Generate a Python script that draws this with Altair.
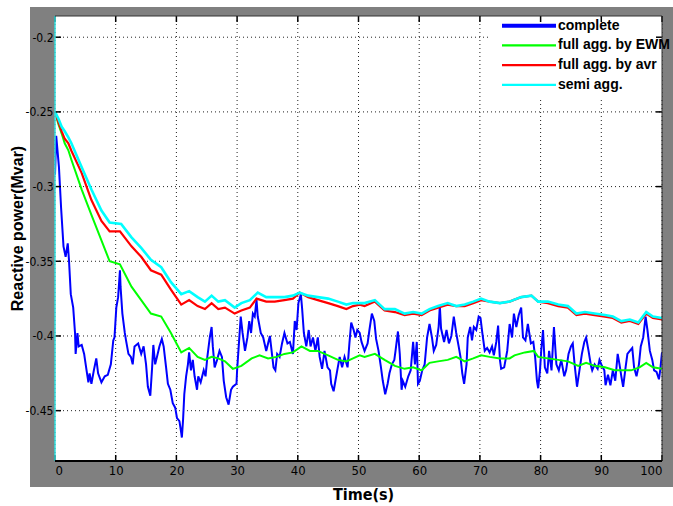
import altair as alt
import pandas as pd

# ---- series data: time (s) and reactive power (Mvar) ----
t_complete = [0, 0.2, 0.65, 1.0, 1.4, 1.75, 2.1, 2.3, 2.6, 3.0, 3.3, 3.4, 3.7, 3.9, 4.4, 4.8,
              5.2, 5.5, 5.7, 6.0, 6.4, 6.8, 7.1, 7.65, 8.2, 8.7, 9.2, 9.6, 9.8, 10.1, 10.4,
              10.7, 10.8, 11.1, 11.5, 11.7, 12.1, 12.5, 12.8, 13.1, 13.7, 14.2, 14.6, 15.0,
              15.3, 15.7, 16.0, 16.2, 16.5, 16.8, 17.2, 17.6, 17.9, 18.3, 18.6, 19.0, 19.4,
              19.8, 20.1, 20.5, 20.8, 20.9, 21.1, 21.3, 21.6, 21.9, 22.1, 22.4, 22.7, 23.0,
              23.4, 23.6, 24.0, 24.5, 24.8, 25.1, 25.5, 25.8, 26.0, 26.3, 26.7, 27.1, 27.5,
              27.8, 28.2, 28.6, 29.0, 29.3, 29.9, 30.0, 30.3, 30.6, 30.9, 31.3, 31.7, 32.0,
              32.3, 32.6, 32.9, 33.2, 33.4, 33.9, 34.3, 34.8, 35.4, 35.6, 36.0, 36.3, 36.6,
              37.0, 37.4, 37.8, 38.3, 38.7, 39.2, 39.5, 39.8, 40.1, 40.5, 40.7, 41.0, 41.4,
              41.8, 42.1, 42.5, 42.9, 43.3, 43.6, 44.0, 44.4, 44.9, 45.3, 45.5, 45.9, 46.2,
              46.5, 46.9, 47.3, 47.7, 48.2, 48.5, 48.8, 49.2, 49.5, 49.8, 50.2, 50.5, 51.0,
              51.5, 51.8, 52.2, 52.6, 52.9, 53.3, 53.7, 54.0, 54.4, 54.8, 55.1, 55.5, 55.9,
              56.1, 56.5, 56.8, 57.1, 57.3, 57.7, 58.2, 58.6, 59.0, 59.3, 59.6, 59.8, 60.1,
              60.5, 60.9, 61.3, 61.7, 62.1, 62.4, 62.8, 63.2, 63.4, 63.6, 64.1, 64.5, 64.9,
              65.3, 65.7, 66.1, 66.5, 66.8, 67.1, 67.4, 67.8, 68.0, 68.4, 68.7, 69.0, 69.4,
              69.8, 70.1, 70.4, 70.8, 71.2, 71.6, 72.0, 72.3, 72.7, 73.0, 73.3, 73.5, 74.0,
              74.5, 74.9, 75.3, 75.6, 76.0, 76.4, 76.8, 77.1, 77.5, 77.9, 78.4, 78.8, 79.1,
              79.4, 79.6, 79.9, 80.1, 80.4, 80.7, 81.1, 81.4, 81.8, 82.2, 82.6, 83.0, 83.4,
              83.9, 84.2, 84.6, 85.0, 85.3, 85.6, 86.0, 86.4, 86.8, 87.2, 87.5, 87.9, 88.3,
              88.5, 88.9, 89.4, 89.7, 90.1, 90.5, 90.7, 91.1, 91.5, 91.9, 92.3, 92.7, 93.0,
              93.3, 93.6, 94.0, 94.3, 94.7, 95.1, 95.4, 95.8, 96.2, 96.5, 96.9, 97.3, 97.6,
              98.0, 98.4, 98.7, 99.1, 99.5, 99.7, 100.0]
q_complete = [-0.292, -0.266, -0.287, -0.314, -0.340, -0.347, -0.338, -0.349, -0.372, -0.381,
              -0.398, -0.412, -0.398, -0.407, -0.406, -0.412, -0.423, -0.431, -0.425, -0.432,
              -0.423, -0.415, -0.425, -0.431, -0.427, -0.426, -0.419, -0.403, -0.401, -0.381,
              -0.374, -0.356, -0.367, -0.385, -0.398, -0.403, -0.412, -0.414, -0.419, -0.407,
              -0.405, -0.412, -0.407, -0.419, -0.434, -0.440, -0.421, -0.406, -0.419, -0.414,
              -0.407, -0.402, -0.407, -0.421, -0.432, -0.436, -0.445, -0.448, -0.455, -0.457,
              -0.465, -0.468, -0.456, -0.439, -0.427, -0.419, -0.411, -0.423, -0.416, -0.427,
              -0.436, -0.427, -0.431, -0.423, -0.427, -0.414, -0.401, -0.394, -0.407, -0.421,
              -0.416, -0.410, -0.414, -0.430, -0.441, -0.446, -0.436, -0.434, -0.432, -0.423,
              -0.405, -0.387, -0.398, -0.410, -0.401, -0.390, -0.398, -0.385, -0.387, -0.376,
              -0.387, -0.398, -0.401, -0.410, -0.400, -0.407, -0.421, -0.423, -0.412, -0.414,
              -0.405, -0.398, -0.405, -0.404, -0.412, -0.390, -0.396, -0.378, -0.372, -0.381,
              -0.398, -0.407, -0.396, -0.407, -0.401, -0.410, -0.401, -0.414, -0.422, -0.410,
              -0.421, -0.423, -0.432, -0.437, -0.430, -0.423, -0.414, -0.421, -0.414, -0.421,
              -0.405, -0.391, -0.396, -0.401, -0.396, -0.398, -0.404, -0.410, -0.405, -0.396,
              -0.385, -0.390, -0.402, -0.410, -0.421, -0.430, -0.439, -0.432, -0.425, -0.419,
              -0.416, -0.410, -0.397, -0.412, -0.436, -0.430, -0.434, -0.427, -0.423, -0.404,
              -0.419, -0.404, -0.432, -0.430, -0.423, -0.419, -0.401, -0.392, -0.401, -0.410,
              -0.406, -0.394, -0.380, -0.395, -0.404, -0.396, -0.405, -0.400, -0.387, -0.398,
              -0.407, -0.414, -0.425, -0.432, -0.419, -0.401, -0.394, -0.403, -0.394, -0.396,
              -0.387, -0.388, -0.398, -0.410, -0.408, -0.411, -0.407, -0.413, -0.404, -0.393,
              -0.416, -0.422, -0.421, -0.410, -0.392, -0.401, -0.385, -0.394, -0.386, -0.381,
              -0.401, -0.403, -0.392, -0.405, -0.404, -0.414, -0.430, -0.435, -0.423, -0.410,
              -0.396, -0.421, -0.425, -0.410, -0.423, -0.394, -0.419, -0.423, -0.416, -0.427,
              -0.423, -0.412, -0.407, -0.405, -0.419, -0.434, -0.423, -0.412, -0.404, -0.401,
              -0.410, -0.420, -0.423, -0.419, -0.422, -0.416, -0.420, -0.423, -0.433, -0.426,
              -0.433, -0.423, -0.430, -0.412, -0.419, -0.427, -0.434, -0.421, -0.412, -0.410,
              -0.408, -0.421, -0.427, -0.419, -0.407, -0.401, -0.387, -0.396, -0.410, -0.416,
              -0.423, -0.424, -0.429, -0.423, -0.411]

t_ewm = [0, 0.55, 1.1, 1.6, 2.2, 2.7, 4.4, 6.0, 7.65, 9.0, 10.7, 12.6, 14.2, 15.8, 17.5, 19.1,
         20.8, 22.1, 23.5, 24.7, 25.8, 26.9, 28.0, 29.3, 30.7, 32.4, 33.7, 35.1, 36.5, 37.8,
         39.2, 40.6, 42.0, 43.3, 45.0, 46.6, 48.0, 49.1, 50.2, 51.0, 52.7, 54.3, 56.0, 57.6,
         59.0, 60.4, 61.7, 63.1, 64.7, 66.1, 67.5, 68.9, 70.2, 71.6, 73.3, 74.9, 75.7, 77.4,
         78.9, 79.6, 81.2, 82.9, 84.5, 86.2, 87.5, 88.9, 90.6, 92.2, 93.6, 94.9, 96.3, 97.4,
         98.5, 100.0]
q_ewm = [-0.250, -0.258, -0.2645, -0.271, -0.2757, -0.282, -0.302, -0.319, -0.336, -0.350,
         -0.352, -0.367, -0.376, -0.385, -0.387, -0.398, -0.411, -0.408, -0.414, -0.416,
         -0.414, -0.415, -0.417, -0.422, -0.420, -0.415, -0.413, -0.415, -0.414, -0.412,
         -0.411, -0.407, -0.410, -0.410, -0.413, -0.416, -0.417, -0.415, -0.413, -0.414,
         -0.412, -0.416, -0.420, -0.422, -0.421, -0.423, -0.418, -0.417, -0.416, -0.414,
         -0.417, -0.415, -0.413, -0.414, -0.415, -0.415, -0.413, -0.411, -0.410, -0.414,
         -0.415, -0.416, -0.417, -0.420, -0.418, -0.420, -0.421, -0.423, -0.423, -0.423,
         -0.421, -0.418, -0.421, -0.422]

t_avr = [0, 0.55, 1.1, 1.6, 2.2, 2.7, 4.4, 6.0, 7.65, 9.0, 10.7, 12.6, 14.2, 15.8, 17.5, 19.1,
         20.8, 22.1, 23.5, 24.7, 25.8, 26.9, 28.0, 29.6, 30.7, 32.1, 33.2, 34.8, 36.2, 37.8,
         39.2, 40.3, 41.7, 43.3, 45.0, 46.6, 48.0, 49.1, 50.2, 51.0, 52.7, 54.3, 56.0, 57.6,
         59.0, 60.4, 61.7, 63.1, 64.7, 66.1, 67.5, 68.9, 70.2, 71.6, 73.3, 74.9, 75.5, 76.8,
         78.5, 79.6, 81.2, 82.9, 84.5, 85.9, 87.3, 88.9, 90.6, 91.9, 93.3, 94.7, 96.1, 97.4,
         98.5, 100.0]
q_avr = [-0.250, -0.2567, -0.263, -0.268, -0.271, -0.276, -0.291, -0.309, -0.323, -0.330,
         -0.330, -0.340, -0.347, -0.356, -0.359, -0.369, -0.379, -0.376, -0.380, -0.382,
         -0.378, -0.382, -0.381, -0.385, -0.383, -0.381, -0.375, -0.377, -0.377, -0.376,
         -0.375, -0.371, -0.374, -0.376, -0.378, -0.380, -0.382, -0.380, -0.379, -0.380,
         -0.377, -0.383, -0.384, -0.386, -0.385, -0.386, -0.383, -0.381, -0.379, -0.380,
         -0.380, -0.378, -0.376, -0.377, -0.378, -0.377, -0.376, -0.374, -0.373, -0.377,
         -0.378, -0.380, -0.381, -0.386, -0.385, -0.386, -0.387, -0.388, -0.391, -0.390,
         -0.392, -0.385, -0.388, -0.389]

t_semi = [0, 0.55, 1.1, 1.6, 2.2, 2.7, 4.4, 6.0, 7.65, 9.0, 10.9, 12.6, 14.2, 15.8, 17.5, 19.1,
          20.8, 22.1, 23.5, 24.7, 25.8, 26.9, 28.0, 29.6, 30.7, 32.1, 33.4, 34.8, 36.2, 37.8,
          39.2, 40.3, 41.7, 43.3, 45.0, 46.6, 48.0, 49.1, 50.2, 51.0, 52.7, 54.3, 56.0, 57.6,
          59.0, 60.4, 61.7, 63.1, 64.7, 66.1, 67.5, 68.9, 70.2, 71.6, 73.3, 74.9, 75.5, 76.8,
          78.5, 79.6, 81.2, 82.9, 84.5, 85.9, 87.3, 88.9, 90.6, 91.9, 93.3, 94.7, 96.1, 97.4,
          98.5, 100.0]
q_semi = [-0.250, -0.2545, -0.260, -0.263, -0.267, -0.271, -0.287, -0.302, -0.316, -0.324,
          -0.325, -0.334, -0.341, -0.349, -0.354, -0.364, -0.372, -0.370, -0.374, -0.377,
          -0.373, -0.377, -0.376, -0.381, -0.378, -0.376, -0.371, -0.374, -0.374, -0.374,
          -0.373, -0.371, -0.373, -0.374, -0.375, -0.377, -0.379, -0.378, -0.378, -0.378,
          -0.376, -0.382, -0.382, -0.385, -0.384, -0.385, -0.382, -0.380, -0.378, -0.380,
          -0.379, -0.377, -0.375, -0.377, -0.378, -0.377, -0.376, -0.374, -0.373, -0.377,
          -0.377, -0.379, -0.380, -0.385, -0.384, -0.385, -0.386, -0.387, -0.390, -0.389,
          -0.391, -0.384, -0.387, -0.388]

series_names = ["complete", "full agg. by EWM", "full agg. by avr", "semi agg."]
series_colors = ["#0000FF", "#00FF00", "#FF0000", "#00FFFF"]

x_ticks = [0, 10, 20, 30, 40, 50, 60, 70, 80, 90, 100]
y_ticks = [-0.45, -0.4, -0.35, -0.3, -0.25, -0.2]

# ---- layout constants (pixels) ----
W, H = 607, 445
NARROW = "DejaVu Sans Condensed, sans-serif"
SANS = "Liberation Sans, Arial, sans-serif"

line_df = pd.concat(
    [pd.DataFrame({"t": ts, "q": qs, "series": name})
     for name, ts, qs in zip(series_names,
                             [t_complete, t_ewm, t_avr, t_semi],
                             [q_complete, q_ewm, q_avr, q_semi])],
    ignore_index=True)
ygrid_df = pd.DataFrame({"q": y_ticks})
xgrid_df = pd.DataFrame({"t": x_ticks})
legend_df = pd.DataFrame({"series": series_names})
one = pd.DataFrame({"k": [0]})

x_scale = alt.Scale(domain=[0, 100], nice=False, zero=False)
y_scale = alt.Scale(domain=[-0.4837, -0.1858], nice=False, zero=False)
color_scale = alt.Scale(domain=series_names, range=series_colors)

x_axis = alt.Axis(values=x_ticks, format="d", grid=False, ticks=False, domain=False,
                  labelFont=NARROW, labelFontSize=13, labelColor="black", labelPadding=3,
                  title="Time(s)", titleFont=NARROW, titleFontSize=16, titleFontWeight="bold",
                  titleColor="black", titleX=308, titleY=38, titleBaseline="alphabetic",
                  zindex=1)
y_axis = alt.Axis(values=y_ticks, labelExpr="'' + datum.value",
                  grid=False, ticks=False, domain=False,
                  labelFont=NARROW, labelFontSize=12, labelColor="black", labelPadding=2,
                  title="Reactive power(Mvar)", titleFont=SANS, titleFontSize=16,
                  titleFontWeight="bold", titleColor="black", titleAngle=270,
                  titleX=-33, titleY=212, titleBaseline="alphabetic", zindex=1)

X = alt.X("t:Q", scale=x_scale, axis=x_axis)
Y = alt.Y("q:Q", scale=y_scale, axis=y_axis)

# gray figure panel behind the white axes box
panel = alt.Chart(one).mark_rect(color="#808080").encode(
    x=alt.value(-25), x2=alt.value(618), y=alt.value(-9), y2=alt.value(471))
axes_box = alt.Chart(one).mark_rect(color="white").encode(
    x=alt.value(0), x2=alt.value(W), y=alt.value(0), y2=alt.value(H))

# dotted grid
hgrid = alt.Chart(ygrid_df).mark_rule(color="#222222", strokeDash=[1, 3], strokeWidth=1).encode(
    y=Y, x=alt.value(0), x2=alt.value(W))
vgrid = alt.Chart(xgrid_df).mark_rule(color="#222222", strokeDash=[1, 3], strokeWidth=1).encode(
    x=X, y=alt.value(0), y2=alt.value(H))

# inward tick marks on all four sides
ytick_l = alt.Chart(ygrid_df).mark_rule(color="black", strokeWidth=1.5).encode(
    y=Y, x=alt.value(0), x2=alt.value(6))
ytick_r = alt.Chart(ygrid_df).mark_rule(color="black", strokeWidth=1.5).encode(
    y=Y, x=alt.value(W - 6), x2=alt.value(W))
xtick_b = alt.Chart(xgrid_df).mark_rule(color="black", strokeWidth=1.5).encode(
    x=X, y=alt.value(H - 6), y2=alt.value(H))
xtick_t = alt.Chart(xgrid_df).mark_rule(color="black", strokeWidth=1.5).encode(
    x=X, y=alt.value(0), y2=alt.value(6))

# white box under the legend entries
legend_box = alt.Chart(one).mark_rect(color="white").encode(
    x=alt.value(433), x2=alt.value(W), y=alt.value(1), y2=alt.value(81))

widths = {"complete": 2.0, "full agg. by EWM": 2.0, "full agg. by avr": 2.2, "semi agg.": 2.6}
line_layers = [
    alt.Chart(line_df).transform_filter(alt.datum.series == name)
    .mark_line(strokeWidth=widths[name], clip=True)
    .encode(x=X, y=Y, color=alt.Color("series:N", scale=color_scale, legend=None))
    for name in series_names
]

# box edges
left_edge = alt.Chart(one).mark_rule(color="#33E0E0", strokeWidth=1.5).encode(
    x=alt.value(0), y=alt.value(0), y2=alt.value(H))
right_edge = alt.Chart(one).mark_rule(color="#333333", strokeWidth=1).encode(
    x=alt.value(W), y=alt.value(0), y2=alt.value(H))
top_edge = alt.Chart(one).mark_rule(color="#333333", strokeWidth=1).encode(
    y=alt.value(0), x=alt.value(0), x2=alt.value(W))
bottom_edge = alt.Chart(one).mark_rule(color="black", strokeWidth=2).encode(
    y=alt.value(H), x=alt.value(0), x2=alt.value(W))

# legend: one row per series
leg_base = alt.Chart(legend_df).transform_window(
    row="row_number()"
).transform_calculate(
    ly="9.7 + 19.7 * (datum.row - 1)",
    lw="datum.row == 1 ? 4 : 2.2"
)
leg_lines = leg_base.mark_rule().encode(
    x=alt.value(447), x2=alt.value(501),
    y=alt.Y("ly:Q", scale=None, axis=None),
    color=alt.Color("series:N", scale=color_scale, legend=None),
    strokeWidth=alt.StrokeWidth("lw:Q", scale=None, legend=None))
leg_text = leg_base.mark_text(align="left", baseline="middle", font=SANS, fontSize=14,
                              fontWeight="bold", color="black").encode(
    x=alt.value(503), y=alt.Y("ly:Q", scale=None, axis=None), text="series:N")

chart = alt.layer(
    panel, axes_box, hgrid, vgrid, legend_box, *line_layers,
    ytick_l, ytick_r, xtick_b, xtick_t,
    left_edge, right_edge, top_edge, bottom_edge,
    leg_lines, leg_text
).properties(
    width=W, height=H,
    autosize=alt.AutoSizeParams(type="none"),
    padding={"left": 55, "top": 16, "right": 11, "bottom": 45},
    background="white"
).configure_view(stroke=None)

chart.save("out.html", embed_options={"renderer": "svg", "actions": False})
